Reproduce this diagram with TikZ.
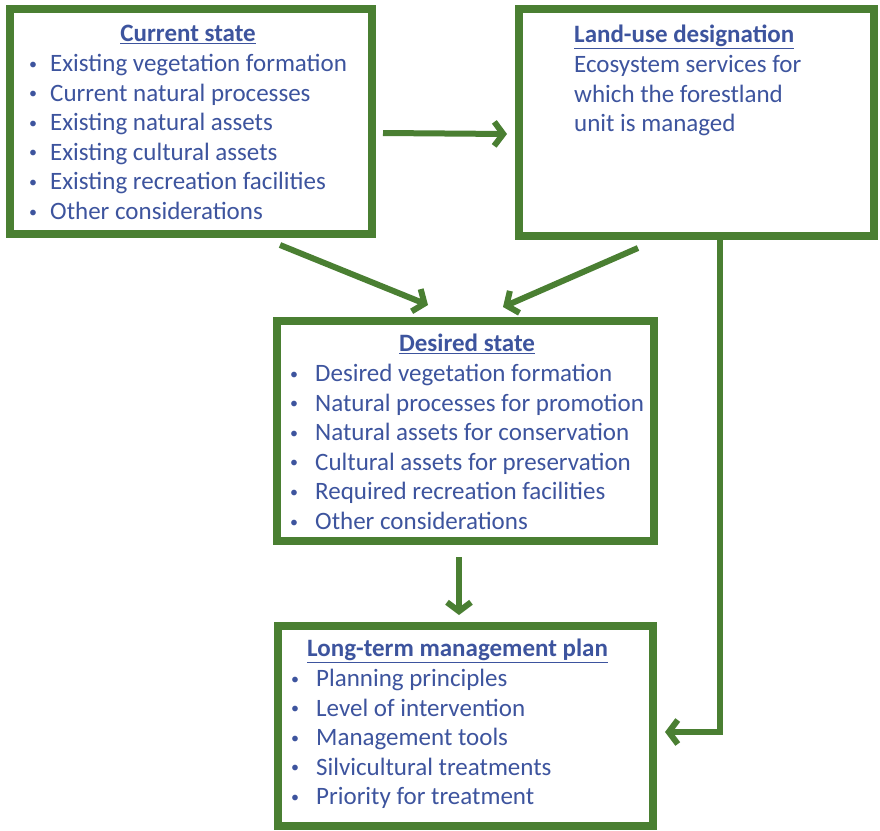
\documentclass[tikz,border=0pt]{standalone}
\usepackage{fontspec}
\setmainfont{Carlito}
\usetikzlibrary{arrows.meta, positioning, calc}
\definecolor{frmgreen}{HTML}{4A7F32}
\definecolor{frmblue}{HTML}{3D549E}
\newcommand{\boxtitle}[1]{\underline{\textbf{#1}}}
\newcommand{\bul}{\raisebox{2.5pt}{\fontsize{16}{16}\selectfont\textbullet}}

\begin{document}
\begin{tikzpicture}[x=1pt, y=-1pt,
    panel/.style={draw=frmgreen, line width=8pt, fill=white, inner sep=0pt},
    listtext/.style={text=frmblue, inner sep=0pt, anchor=north west,
                     align=left, font=\fontsize{25}{29.6}\selectfont},
    flow/.style={draw=frmgreen, line width=6pt,
                 -{Straight Barb[length=9pt, width=24pt]}}]
  \useasboundingbox (0,0) rectangle (880,830);
  %% (A) Current state ─────────────────────────────────────────
  \node[panel, minimum width=362pt, minimum height=225pt] (cur) at (191,121.5) {};
  \node[listtext] (curtext) at ([shift={(23,16)}]cur.north west) {%
    \begin{tabular}{@{}p{21pt}@{}l@{}}
      \multicolumn{2}{c}{\boxtitle{Current state}}\\
      \bul & Existing vegetation formation\\
      \bul & Current natural processes\\
      \bul & Existing natural assets\\
      \bul & Existing cultural assets\\
      \bul & Existing recreation facilities\\
      \bul & Other considerations
    \end{tabular}};
  %% (B) Land-use designation ──────────────────────────────────
  \node[panel, minimum width=355pt, minimum height=227pt] (land) at (696.5,122.5) {};
  \node[listtext] (landtext) at ([shift={(59,17)}]land.north west) {%
    \begin{tabular}{@{}l@{}}
      \boxtitle{Land-use designation}\\
      Ecosystem services for\\
      which the forestland\\
      unit is managed
    \end{tabular}};
  %% (C) Desired state ─────────────────────────────────────────
  \node[panel, minimum width=377pt, minimum height=220pt] (des) at (465.5,431) {};
  \node[listtext] (destext) at ([shift={(17,14)}]des.north west) {%
    \begin{tabular}{@{}p{25pt}@{}l@{}}
      \multicolumn{2}{c}{\boxtitle{Desired state}}\\
      \bul & Desired vegetation formation\\
      \bul & Natural processes for promotion\\
      \bul & Natural assets for conservation\\
      \bul & Cultural assets for preservation\\
      \bul & Required recreation facilities\\
      \bul & Other considerations
    \end{tabular}};
  %% (D) Long-term management plan ─────────────────────────────
  \node[panel, minimum width=375pt, minimum height=200pt] (plan) at (465.5,726) {};
  \node[listtext] (plantext) at ([shift={(17,14)}]plan.north west) {%
    \begin{tabular}{@{}p{25pt}@{}l@{}}
      \multicolumn{2}{@{\hspace{16pt}}l}{\boxtitle{Long-term management plan}}\\
      \bul & Planning principles\\
      \bul & Level of intervention\\
      \bul & Management tools\\
      \bul & Silvicultural treatments\\
      \bul & Priority for treatment
    \end{tabular}};
  %% connectors ────────────────────────────────────────────────
  \draw[flow] ([shift={(7,11.5)}]cur.east) -- ([shift={(-8,11.5)}]land.west);
  \draw[flow] ([shift={(89,7)}]cur.south) -- ([shift={(-37.5,-12)}]des.north);
  \draw[flow] ([shift={(-58.5,8)}]land.south) -- ([shift={(37.5,-10)}]des.north);
  \draw[flow] ([shift={(-6.5,12)}]des.south) -- ([shift={(-6.5,-7)}]plan.north);
  \draw[flow] ([xshift=23.5pt]land.south) |- ([shift={(8,6)}]plan.east);
\end{tikzpicture}
\end{document}
